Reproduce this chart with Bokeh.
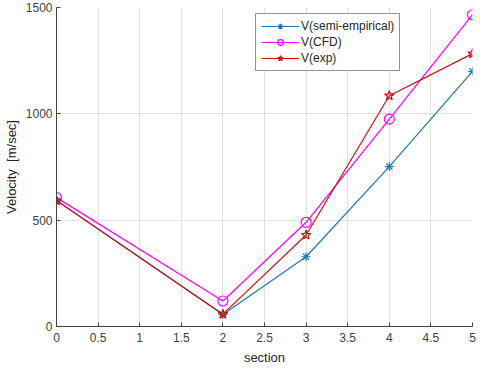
from bokeh.plotting import figure
from bokeh.models import Legend, LegendItem, FixedTicker
from bokeh.embed import file_html
from bokeh.resources import INLINE

sections = [0, 2, 3, 4, 5]
v_semi = [592, 56, 328, 752, 1200]
v_cfd = [606, 120, 490, 975, 1466]
v_exp = [592, 58, 430, 1085, 1283]

x_ticks = [0, 0.5, 1, 1.5, 2, 2.5, 3, 3.5, 4, 4.5, 5]
y_ticks = [0, 500, 1000, 1500]

FONT = "Liberation Sans"
TXT = "#404040"

p = figure(width=480, height=368, output_backend="svg", toolbar_location=None,
           x_range=(0, 5), y_range=(0, 1500),
           min_border_left=56, min_border_right=8, min_border_top=7, min_border_bottom=42)
p.outline_line_color = None
p.background_fill_color = "white"

for ax in (p.xaxis[0], p.yaxis[0]):
    ax.major_tick_in = 4
    ax.major_tick_out = 0
    ax.minor_tick_line_color = None
    ax.axis_line_color = "#404040"
    ax.major_tick_line_color = "#404040"
    ax.major_label_text_font = FONT
    ax.major_label_text_font_size = "12px"
    ax.major_label_text_color = TXT
    ax.axis_label_text_font = FONT
    ax.axis_label_text_font_size = "13px"
    ax.axis_label_text_font_style = "normal"
    ax.axis_label_text_color = "#262626"

p.xaxis.ticker = FixedTicker(ticks=x_ticks)
p.yaxis.ticker = FixedTicker(ticks=y_ticks)
p.xaxis.axis_label = "section"
p.yaxis.axis_label = "Velocity\u00a0\u00a0[m/sec]"
p.xaxis.axis_label_standoff = 5
p.yaxis.axis_label_standoff = 4
p.yaxis.major_label_standoff = 4
p.xaxis.major_label_standoff = 6

p.xgrid.ticker = FixedTicker(ticks=x_ticks)
p.ygrid.ticker = FixedTicker(ticks=y_ticks)
p.grid.grid_line_color = "#e0e0e0"
p.grid.grid_line_width = 1

c_semi = "#1f77b4"
c_cfd = "#ff00ff"
c_exp = "#d01010"

l1 = p.line(sections, v_semi, line_color=c_semi, line_width=1.2)
m1 = p.scatter(sections, v_semi, marker="asterisk", size=9, line_color=c_semi, line_width=1.2)
l2 = p.line(sections, v_cfd, line_color=c_cfd, line_width=1.2)
m2 = p.scatter(sections, v_cfd, marker="circle", size=10, line_color=c_cfd, fill_color=None, line_width=1.2)
l3 = p.line(sections, v_exp, line_color=c_exp, line_width=1.2)
m3 = p.scatter(sections, v_exp, marker="star", size=10, line_color=c_exp, fill_color=None, line_width=1.2)

legend = Legend(items=[
    LegendItem(label="V(semi-empirical)", renderers=[l1, m1]),
    LegendItem(label="V(CFD)", renderers=[l2, m2]),
    LegendItem(label="V(exp)", renderers=[l3, m3]),
], location=(199, 255))
legend.border_line_color = "#262626"
legend.border_line_width = 1
legend.background_fill_alpha = 1
legend.label_text_font = FONT
legend.label_text_font_size = "12px"
legend.label_text_color = "#262626"
legend.glyph_width = 38
legend.glyph_height = 14
legend.label_height = 14
legend.spacing = 2
legend.padding = 5
legend.margin = 0
legend.label_standoff = 2
p.add_layout(legend)

open("out.html", "w").write(file_html(p, INLINE))
